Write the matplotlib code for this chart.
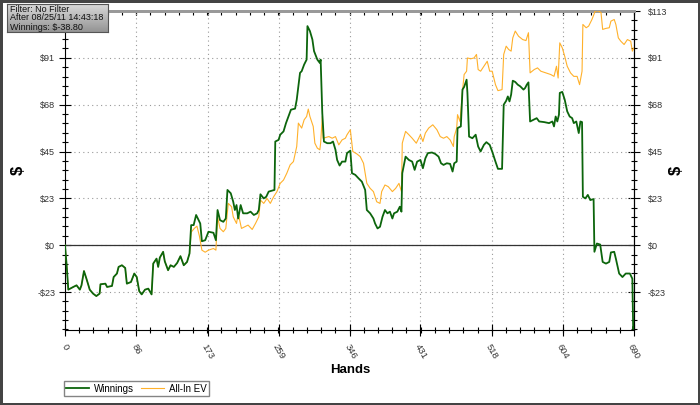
import matplotlib
matplotlib.use("Agg")
import matplotlib.pyplot as plt
import numpy as np
from matplotlib.ticker import FixedLocator

# Datos: mano -> dolares acumulados
manos = [0, 2, 4, 10, 14, 18, 20, 23, 26, 30, 34, 38, 42, 43, 49, 51, 57, 59, 63, 65,
         69, 73, 75, 80, 84, 87, 90, 93, 97, 101, 105, 107, 111, 113, 115, 119, 121, 125, 128, 132,
         136, 140, 144, 148, 151,
         153, 156, 159, 162, 164, 166, 170, 174, 180, 183, 185, 188, 192, 195, 197, 201, 204, 206, 208, 210,
         213, 216, 221, 225, 229, 233, 235, 237, 241, 244, 247, 254, 255, 259, 261, 265, 268, 271, 274, 279,
         281, 283, 285, 287, 290, 293, 294, 297, 300, 302, 306, 309, 310, 312, 314, 318, 322, 325, 328, 330,
         333, 336, 340, 342, 346, 348, 352, 356, 360, 364, 366, 370, 374, 376, 379, 382, 385, 388, 391, 394,
         397, 399, 403, 406, 408, 409, 413, 417, 421, 424, 427, 431, 434, 437, 440, 445, 449, 453, 456, 459,
         463, 467, 470, 472, 475, 476, 480, 482, 484, 487, 488, 490, 494, 498, 501, 504, 508, 511, 515, 518,
         522, 525, 530, 532, 535, 537, 539, 541, 543, 546, 549, 552, 556, 558, 560, 562, 564, 568, 572, 575,
         581, 587, 591, 593, 595, 597, 599, 600, 603, 606, 609, 612, 615, 617, 620, 623, 625, 627, 628, 631,
         634, 637, 641, 642, 645, 649, 652, 656, 660, 662, 666, 668, 672, 676, 680, 685, 688, 689, 690]
ganancias = [0, -9.7, -21.5, -20.2, -19.4, -21.5, -19.4, -12.5, -16.2, -21.5, -23.4, -24.6, -23.4, -18.9, -18.6,
             -20.2, -19.7, -15.4, -13.7, -10.5, -9.7, -11.0, -18.6, -17.8, -13.7, -15.4, -22.2, -23.8, -21.5, -21.0,
             -23.8, -8.9, -6.5, -10.5, -6.0, -3.2, -7.8, -12.1, -9.7, -10.5, -8.6, -5.3, -9.7, -8.1, -4.0,
             9.7, 9.7, 14.6, 12.1, 10.5, 1.9, 2.4, 6.5, 6.0, 2.4, 17.0, 12.1, 11.3, 12.9, 26.7, 25.1, 21.0, 17.0, 19.4, 12.9,
             19.4, 15.4, 15.4, 16.2, 14.6, 15.4, 17.0, 24.6, 22.6, 23.4, 25.9, 26.7, 50.1, 50.9, 53.4, 55.0, 59.0, 62.2, 65.5, 66.0,
             70.3, 76.8, 83.3, 84.1, 87.3, 89.7, 105.9, 103.5, 99.4, 93.8, 89.7, 88.1, 89.7, 63.9, 50.1, 49.3, 49.3, 50.1, 46.1, 41.2,
             38.5, 40.4, 40.4, 44.5, 45.7, 34.8, 34.0, 32.3, 30.7, 26.7, 17.0, 15.4, 12.9, 10.5, 8.1, 8.9, 13.7, 17.0, 15.4, 16.2,
             12.9, 15.4, 16.2, 18.6, 16.2, 34.8, 42.8, 41.2, 40.4, 36.4, 40.4, 41.2, 37.2, 42.0, 44.5, 44.8, 44.1, 42.8, 39.6, 38.8,
             39.6, 39.3, 35.6, 39.6, 40.4, 56.6, 57.4, 75.2, 76.5, 80.0, 73.6, 52.5, 51.7, 53.4, 47.7, 45.3, 48.5, 49.8, 48.5, 45.3,
             40.4, 36.9, 36.9, 67.9, 69.8, 71.9, 69.5, 72.8, 79.5, 78.9, 77.6, 76.8, 75.2, 76.0, 77.6, 78.7, 59.8, 60.6, 61.4, 59.8,
             59.5, 59.0, 59.8, 57.4, 62.2, 59.8, 63.1, 73.6, 74.1, 70.3, 64.7, 62.2, 61.4, 59.0, 59.8, 54.2, 59.8, 59.5, 23.4, 22.6,
             24.3, 21.8, 22.3, -3.2, 0.8, 0.3, -8.1, -8.9, -8.1, -3.5, -3.2, -6.5, -13.7, -15.4, -13.7, -13.7, -16.2, -40.5, -38.8]

# All-In EV coincide con Winnings hasta la mano 151
manos_ev = manos[:45] + [
    153, 157, 160, 163, 166, 170, 174, 180, 183, 185, 188, 192, 195, 198, 202, 204, 208, 210, 214, 218,
    222, 227, 231, 235, 237, 241, 245, 249, 253, 257, 261, 265, 269, 273, 277, 281, 283, 287, 290, 293,
    295, 297, 301, 303, 306, 309, 310, 312, 313, 320, 324, 328, 332, 336, 340, 342, 346, 349, 354, 358,
    362, 366, 370, 374, 378, 382, 384, 388, 392, 397, 401, 405, 408, 409, 413, 417, 421, 426, 431, 434,
    437, 441, 446, 451, 455, 459, 463, 467, 471, 472, 475, 476, 479, 482, 484, 487, 488, 492, 496, 499,
    501, 504, 508, 512, 515, 518, 522, 525, 530, 532, 535, 538, 541, 543, 546, 550, 555, 559, 562, 564,
    569, 573, 577, 583, 589, 593, 596, 598, 600, 603, 606, 609, 613, 617, 621, 624, 627, 628, 632, 635,
    639, 643, 647, 650, 652, 656, 660, 662, 666, 668, 671, 674, 678, 682, 686, 688, 690]
ev_allin = ganancias[:45] + [
    6.3, 8.2, 9.2, 4.4, -2.4, -3.4, -2.4, -1.6, -2.4, 13.7, 8.1, 6.5, 8.1, 20.2, 18.6, 13.7, 10.5, 15.4, 8.1, 8.9,
    9.7, 7.6, 10.5, 13.7, 21.8, 20.2, 22.6, 20.2, 23.4, 25.9, 29.9, 31.5, 34.8, 38.8, 40.4, 47.7, 59.0, 56.6, 60.6, 62.2,
    65.8, 62.2, 57.4, 49.3, 46.9, 46.1, 49.3, 62.2, 51.7, 52.5, 51.7, 52.5, 48.5, 50.9, 51.7, 53.4, 55.8, 45.3, 44.1, 42.8,
    39.6, 29.9, 27.5, 25.9, 21.0, 20.2, 25.9, 29.1, 28.3, 25.9, 27.5, 29.9, 25.9, 49.3, 55.0, 53.4, 51.7, 49.3, 53.4, 50.1,
    54.2, 56.6, 58.2, 55.8, 52.5, 51.7, 52.5, 50.9, 47.7, 52.5, 56.6, 63.1, 59.8, 74.4, 82.5, 84.1, 90.5, 90.1, 90.5, 92.2,
    84.9, 84.1, 86.5, 88.9, 84.1, 84.1, 77.6, 74.7, 75.2, 92.2, 96.2, 94.6, 93.8, 100.2, 103.5, 101.0, 99.4, 98.9, 102.7, 83.3,
    84.9, 85.7, 84.1, 83.3, 82.5, 81.6, 86.5, 80.8, 97.8, 95.4, 91.3, 86.5, 83.3, 81.6, 81.6, 77.6, 84.1, 106.7, 105.1, 105.9,
    109.1, 113.2, 113.2, 112.4, 104.3, 104.8, 105.1, 108.3, 109.1, 106.7, 100.2, 98.6, 97.0, 99.4, 98.6, 93.8, 95.4]

ticks_x = [0, 86, 173, 259, 346, 431, 518, 604, 690]
paso_y = 22.64
ticks_y = [-22.64, 0, 22.64, 45.28, 67.92, 90.56, 113.2]
etiquetas_y = ["-$23", "$0", "$23", "$45", "$68", "$91", "$113"]
info = "Filter: No Filter\nAfter 08/25/11 14:43:18\nWinnings: $-38.80"

plt.rcParams['font.family'] = ['Liberation Sans', 'DejaVu Sans']

fig = plt.figure(figsize=(7, 4.05), dpi=100)
fig.patch.set_facecolor('white')
fig.patch.set_edgecolor('#444444')
fig.patch.set_linewidth(2.5)

ax = fig.add_axes([65 / 700, 1 - 330 / 405, 569 / 700, 319 / 405])
ax.plot(manos_ev, ev_allin, color='#ffb12b', lw=0.8, label='All-In EV', zorder=3)
ax.plot(manos, ganancias, color='#0c650c', lw=1.3, label='Winnings', zorder=4)
ax.axhline(0, color='#333333', lw=0.9, zorder=2)

ax.set_xlim(0, 690)
ax.set_ylim(-41, 113.2)

ax.set_xticks(ticks_x)
ax.set_xticklabels([str(t) for t in ticks_x], rotation=-60, ha='center', va='top',
                   fontsize=6.8, color='#333333')
ax.xaxis.set_minor_locator(FixedLocator(np.arange(0, 691, 17.25)))
ax.set_yticks(ticks_y)
# la etiqueta $113 de la izquierda queda tapada por el recuadro
ax.set_yticklabels(etiquetas_y[:-1] + [""], fontsize=6.5, color='#333333')
ax.yaxis.set_minor_locator(FixedLocator(np.arange(-9, 26) * paso_y / 5))

ax.tick_params(which='major', direction='inout', length=8, width=0.8)
ax.tick_params(which='minor', direction='inout', length=4.5, width=0.8)
ax.tick_params(axis='y', pad=3)
ax.tick_params(axis='x', pad=5)

ax.grid(True, which='major', linestyle=(0, (1, 3)), color='#999999', lw=0.8)
ax.spines['top'].set_color('#999999')
ax.spines['top'].set_linewidth(2)

# eje derecho y ticks de arriba
der = ax.secondary_yaxis('right')
der.set_yticks(ticks_y)
der.set_yticklabels(etiquetas_y, fontsize=6.5, color='#333333')
der.yaxis.set_minor_locator(FixedLocator(np.arange(-9, 26) * paso_y / 5))
der.tick_params(which='major', direction='inout', length=8, width=0.8, pad=6)
der.tick_params(which='minor', direction='inout', length=4.5, width=0.8)

arr = ax.secondary_xaxis('top')
arr.set_xticks(ticks_x)
arr.set_xticklabels([])
arr.xaxis.set_minor_locator(FixedLocator(np.arange(0, 691, 17.25)))
arr.tick_params(which='both', direction='in', length=3, width=0.8)
arr.spines['top'].set_color('#999999')
arr.spines['top'].set_linewidth(2)

fig.text(350 / 700, 1 - 370 / 405, 'Hands', ha='center', va='center', fontsize=9.5, fontweight='bold')
fig.text(18 / 700, 1 - 170 / 405, '$', ha='center', va='center', rotation=90, fontsize=12, fontweight='bold')
fig.text(676 / 700, 1 - 170 / 405, '$', ha='center', va='center', rotation=90, fontsize=12, fontweight='bold')

h, l = ax.get_legend_handles_labels()
fig.legend(h[::-1], l[::-1], loc='lower left', bbox_to_anchor=(64 / 700, 1 - 396 / 405), ncol=2,
           fontsize=7, frameon=True, fancybox=False, edgecolor='#666666', borderpad=0.25,
           handlelength=2.3, handletextpad=0.5, columnspacing=0.8, borderaxespad=0)

# recuadro con degradado arriba a la izquierda
caja = fig.add_axes([7 / 700, 1 - 32 / 405, 101 / 700, 28 / 405])
caja.imshow(np.linspace(0.85, 0.58, 50)[:, None], cmap='gray', vmin=0, vmax=1,
            aspect='auto', extent=[0, 1, 0, 1])
caja.set_xticks([])
caja.set_yticks([])
for s in caja.spines.values():
    s.set_color('#555555')
caja.text(0.025, 0.5, info, ha='left', va='center', fontsize=6.5, color='#111111',
          linespacing=1.0, transform=caja.transAxes)

fig.savefig('out.png', dpi=100)
